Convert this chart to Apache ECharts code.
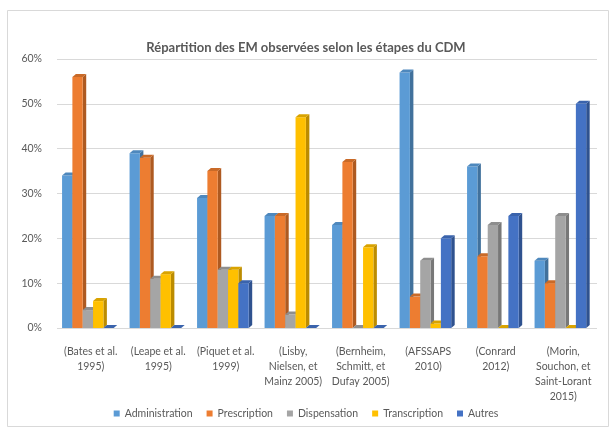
<!DOCTYPE html>
<html><head><meta charset="utf-8">
<script src="https://cdn.jsdelivr.net/npm/echarts@6/dist/echarts.min.js"></script>
<style>html,body{margin:0;padding:0;background:#fff}#c{width:612px;height:430px}</style>
</head><body><div id="c"></div>
<script>
const categories = ["(Bates et al.\n1995)", "(Leape et al.\n1995)", "(Piquet et al.\n1999)", "(Lisby,\nNielsen, et\nMainz 2005)", "(Bernheim,\nSchmitt, et\nDufay 2005)", "(AFSSAPS\n2010)", "(Conrard\n2012)", "(Morin,\nSouchon, et\nSaint-Lorant\n2015)"];
const seriesNames = ["Administration", "Prescription", "Dispensation", "Transcription", "Autres"];
const administration = [34, 39, 29, 25, 23, 57, 36, 15];
const prescription   = [56, 38, 35, 25, 37, 7, 16, 10];
const dispensation   = [4, 11, 13, 3, 0, 15, 23, 25];
const transcription  = [6, 12, 13, 47, 18, 1, 0, 0];
const autres         = [0, 0, 10, 0, 0, 20, 25, 50];
const yTicks = [0, 10, 20, 30, 40, 50, 60];

const allValues = [administration, prescription, dispensation, transcription, autres];
const colors = ["#5B9BD5", "#ED7D31", "#A5A5A5", "#FFC000", "#4472C4"];
const sides  = ["#41719C", "#AE5A21", "#787878", "#BC8C00", "#2F528F"];
const tops   = ["#4E88BD", "#C96A28", "#8E8E8E", "#D9A300", "#3A63AC"];
const FONT = "Lato, 'Open Sans', sans-serif";

function makeRender(s) {
  return function (params, api) {
    const ci = api.value(0), v = api.value(1);
    const base = api.coord([ci, 0]);
    const top = api.coord([ci, v]);
    const band = api.size([1, 0])[0];
    const bw = band * 0.153;
    const x0 = base[0] - band / 2 + band * 0.075 + s * bw;
    const dx = 3.5, dy = 3;
    const y1 = top[1], y0 = base[1];
    const children = [];
    if (y0 - y1 > 0.01) {
      children.push({type: 'polygon', shape: {points: [[x0 + bw, y1], [x0 + bw + dx, y1 - dy], [x0 + bw + dx, y0 - dy], [x0 + bw, y0]]}, style: {fill: sides[s]}});
      children.push({type: 'rect', shape: {x: x0, y: y1, width: bw, height: y0 - y1}, style: {fill: colors[s]}});
    }
    children.push({type: 'polygon', shape: {points: [[x0, y1], [x0 + dx, y1 - dy], [x0 + bw + dx, y1 - dy], [x0 + bw, y1]]}, style: {fill: tops[s]}});
    return {type: 'group', children};
  };
}

const series = seriesNames.map((name, s) => ({
  name, type: 'custom',
  itemStyle: {color: colors[s]},
  renderItem: makeRender(s),
  encode: {x: 0, y: 1},
  data: allValues[s].map((v, i) => [i, v])
}));

const chart = echarts.init(document.getElementById('c'), null, {renderer: 'canvas'});
chart.setOption({
  animation: false,
  backgroundColor: '#fff',
  graphic: [{type: 'rect', left: 5, top: 8, shape: {width: 601, height: 416}, style: {fill: 'none', stroke: '#D9D9D9', lineWidth: 1}, z: -1}],
  title: {text: 'Répartition des EM observées selon les étapes du CDM', left: 'center', top: 36,
    textStyle: {fontFamily: FONT, fontSize: 13, fontWeight: 'bold', color: '#595959'}},
  grid: {left: 57, right: 15, top: 59, bottom: 102},
  xAxis: {type: 'category', data: categories,
    axisLine: {show: false}, axisTick: {show: false},
    axisLabel: {interval: 0, color: '#595959', fontFamily: FONT, fontSize: 10.5, lineHeight: 15, margin: 16}},
  yAxis: {type: 'value', min: yTicks[0], max: yTicks[yTicks.length - 1], interval: 10,
    axisLabel: {formatter: '{value}%', color: '#595959', fontFamily: FONT, fontSize: 10.5, margin: 15},
    axisLine: {show: false}, axisTick: {show: false},
    splitLine: {lineStyle: {color: '#D9D9D9', width: 1}}},
  legend: {data: seriesNames, bottom: 6, left: 'center', icon: 'rect', itemWidth: 6, itemHeight: 6, itemGap: 14,
    textStyle: {color: '#595959', fontFamily: FONT, fontSize: 10.5}},
  series
});
</script></body></html>
